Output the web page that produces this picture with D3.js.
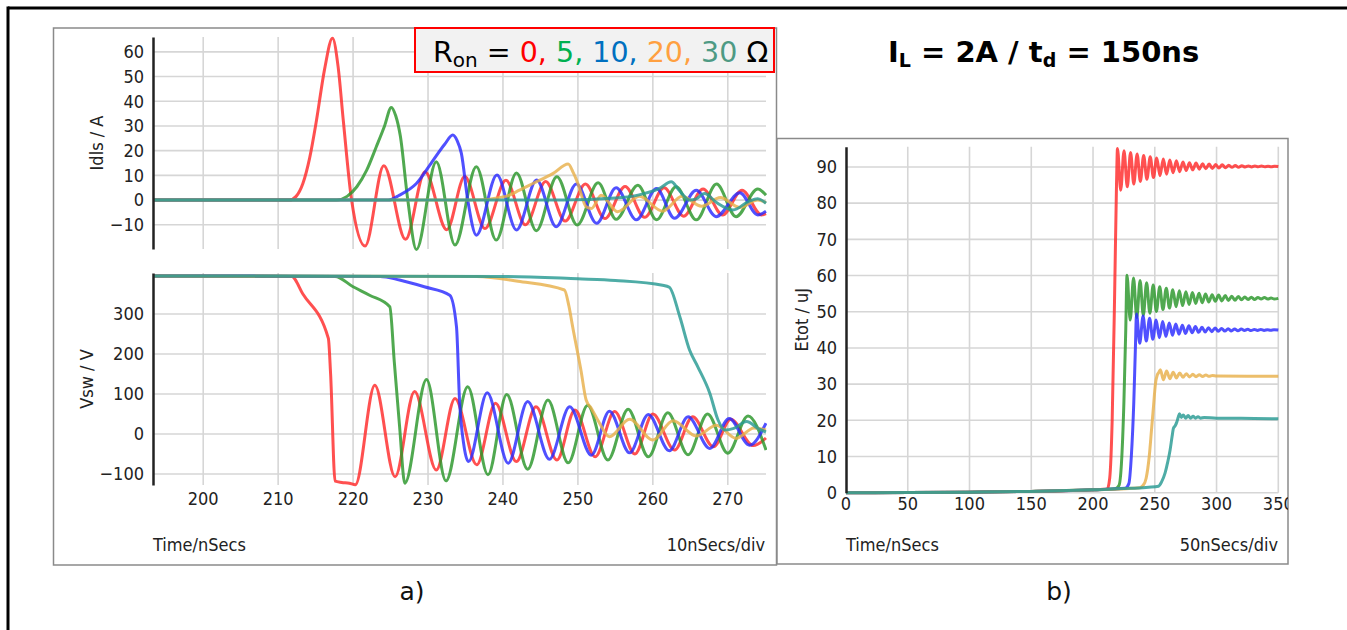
<!DOCTYPE html>
<html><head><meta charset="utf-8">
<script src="https://cdn.jsdelivr.net/npm/d3@7"></script>
<style>
html,body{margin:0;padding:0;background:#fff;}
svg{display:block;font-family:"DejaVu Sans Condensed","DejaVu Sans",Verdana,sans-serif;}
</style></head>
<body>
<svg id="c" width="1347" height="630"></svg>
<script>
// ---------------- DATA ----------------
const ronValues = [0, 5, 10, 20, 30];
const timeTicksA = [200, 210, 220, 230, 240, 250, 260, 270];
const idlsTicks = [-10, 0, 10, 20, 30, 40, 50, 60];
const vswTicks = [-100, 0, 100, 200, 300];
const timeTicksB = [0, 50, 100, 150, 200, 250, 300, 350];
const etotTicks = [0, 10, 20, 30, 40, 50, 60, 70, 80, 90];

// Idls (A) vs time (ns)
const idlsR0 = [[193.3,0],[211.5,0],[212.4,1.5],[213.3,6.7],[214.2,17],[215.1,32],[216.2,53],[217.25,65.5],[218.0,54],[218.7,32],[219.8,0],[221.6,-18.6],[224.1,13.9],[227.0,-15.9],[229.6,11.5],[232.5,-12],[234.9,9.5],[237.6,-11.5],[240.4,8],[243.0,-10],[245.7,7.5],[248.3,-8.5],[251.0,6.5],[253.6,-7.5],[256.3,5.5],[258.9,-7],[261.5,5],[264.1,-6.5],[266.7,4.5],[269.3,-6],[271.9,4],[274.5,-6],[275.1,-5.5]];
const idlsR5 = [[193.3,0],[217.8,0],[219.2,1.5],[220.5,5.4],[221.8,12],[223.1,21.6],[224.2,30],[225.1,37.5],[225.7,34],[226.3,26],[227.3,0],[228.45,-20],[231.1,15.5],[233.6,-18.2],[236.45,13.5],[239.1,-16.2],[241.8,11],[244.45,-12.4],[247.2,9.4],[249.9,-10.1],[252.7,7],[255.1,-7.8],[258.0,6],[260.5,-8],[263.1,5.4],[265.8,-8],[268.5,6.5],[271.1,-6.7],[274.0,4.5],[275.1,2]];
const idlsR10 = [[193.3,0],[224.7,0],[226.2,2],[228.45,6.7],[230.7,16.2],[232.2,22.5],[233.3,26.3],[233.9,24],[234.45,18.9],[235.3,0],[236.45,-14.2],[239.2,10.1],[241.8,-12.1],[244.5,8.1],[247.1,-10.8],[249.8,6.5],[252.5,-9.4],[255.1,5],[257.8,-8],[260.5,4.7],[262.9,-7.4],[265.8,4],[268.45,-6.7],[271.6,3],[274.0,-6],[275.1,-4.5]];
const idlsR20 = [[193.3,0],[236,0],[240.4,1.5],[242.2,4],[244.0,6.7],[246.7,10.8],[248.7,14.6],[249.4,11],[250.0,6.7],[251.1,-2.7],[251.8,-3.4],[253.1,2],[255.3,-4.7],[258.2,1.5],[261.3,-4.5],[263.9,1.5],[266.5,-2.5],[269.0,1],[271.6,-3],[274.0,0],[275.1,-1]];
const idlsR30 = [[193.3,0],[248,0],[255,0.8],[258,2],[260.9,4.7],[262.45,7.4],[263.5,4],[264.9,0],[265.8,0.5],[266.9,2.7],[268.5,-1],[270.7,-4],[272.8,-0.5],[274,0.5],[275.1,-1.3]];

// Vsw (V) vs time (ns)
const vswR0 = [[193.3,395],[211.8,394],[213.3,350],[216.7,239],[217.0,150],[217.6,-118],[218.5,-121],[219.5,-123],[220.3,-127],[222.9,122],[225.6,-107],[228.2,106],[231.1,-90],[233.6,89],[236.5,-77],[239.0,77],[241.8,-69],[244.4,68],[247.2,-65],[249.6,60],[252.3,-57],[254.9,56],[257.6,-50],[260.0,50],[262.9,-40],[265.3,43],[268.1,-32],[270.4,37],[273.4,-29],[275.1,-10]];
const vswR5 = [[193.3,395],[217.6,394],[220.0,368],[222.2,347],[224.9,318],[225.5,180],[226.2,20],[226.9,-123],[229.8,136],[232.4,-117],[235.3,118],[238.0,-102],[240.5,99],[243.3,-88],[246.0,85],[248.7,-72],[251.3,72],[254.0,-65],[256.7,62],[259.4,-57],[262.0,53],[264.7,-52],[267.3,50],[270.0,-48],[272.7,45],[275.1,-40]];
const vswR10 = [[193.3,395],[223.6,394],[226.2,385],[229.5,368],[232.9,347],[233.8,268],[234.2,85],[234.8,-30],[235.4,-69],[237.9,103],[240.7,-73],[243.3,81],[246.2,-63],[248.9,68],[251.8,-53],[254.2,57],[256.9,-47],[259.4,49],[262.2,-42],[264.7,43],[267.6,-36],[270.2,39],[272.9,-28],[275.1,27]];
const vswR20 = [[193.3,395],[236.5,394],[242,382],[248.2,360],[248.8,320],[249.3,268],[250.4,160],[251.1,85],[251.8,64],[252.8,30],[254.2,-7],[256.9,37],[260.0,-15],[262.7,33],[265.8,-5],[268.5,22],[271.1,-11],[273.5,15],[275.1,10]];
const vswR30 = [[193.3,395],[240,394],[250,388],[255,384],[261.3,372],[262.2,367],[263.6,293],[264.9,210],[266.0,168],[267.6,102],[268.7,35],[269.6,10],[270.8,14],[272.5,31],[274.2,12],[275.1,5]];

// Etot (uJ) vs time (ns)
const etotR0 = [[0,0],[50,0.05],[100,0.15],[150,0.35],[200,0.8],[211.5,1.0],[213.5,4],[215.5,20],[217.5,55],[219,85],[219.8,95.1],[222.4,83.6],[225.1,94.5],[227.7,84.5],[230.4,94],[233,85.3],[235.7,93.6],[238.3,86],[241,93.2],[243.6,86.6],[246.3,92.8],[248.9,87.1],[251.6,92.5],[254.2,87.6],[256.9,92.2],[259.5,88],[262.2,91.9],[264.8,88.4],[267.5,91.7],[270.1,88.7],[272.8,91.4],[275.4,89],[278.1,91.2],[280.7,89.2],[283.4,91.1],[286,89.4],[288.7,90.9],[291.3,89.5],[294,90.8],[296.6,89.6],[299.3,90.7],[301.9,89.7],[304.6,90.6],[307.2,89.8],[309.9,90.5],[312.5,89.9],[315.2,90.4],[317.8,89.9],[320.5,90.35],[323.1,90],[325.8,90.3],[328.4,90],[331.1,90.3],[333.7,90.05],[336.4,90.25],[339,90.05],[341.7,90.2],[344.3,90.05],[347,90.2],[350,90.1]];
const etotR5 = [[0,0],[50,0.05],[100,0.15],[150,0.35],[200,0.8],[218,1.1],[221,2],[223,8],[225,25],[226.5,45],[227.5,60.1],[230.1,47.7],[232.8,59.3],[235.4,48.4],[238.1,58.6],[240.7,49],[243.4,58],[246,49.6],[248.7,57.4],[251.3,50.1],[254,56.9],[256.6,50.6],[259.3,56.5],[261.9,51],[264.6,56.1],[267.2,51.4],[269.9,55.8],[272.5,51.7],[275.2,55.5],[277.8,52],[280.5,55.3],[283.1,52.3],[285.8,55.1],[288.4,52.5],[291.1,54.9],[293.7,52.7],[296.4,54.7],[299,52.9],[301.7,54.6],[304.3,53],[307,54.5],[309.6,53.1],[312.3,54.3],[314.9,53.2],[317.6,54.2],[320.2,53.3],[322.9,54.1],[325.5,53.4],[328.2,54],[330.8,53.4],[333.5,53.9],[336.1,53.5],[338.8,53.9],[341.4,53.5],[344.1,53.8],[346.7,53.5],[350,53.7]];
const etotR10 = [[0,0],[50,0.05],[100,0.15],[150,0.35],[200,0.8],[226,1.2],[229,2.5],[231,10],[233,25],[234.3,40],[235.2,49.4],[237.8,41.3],[240.5,48.8],[243.1,41.9],[245.8,48.2],[248.4,42.4],[251.1,47.7],[253.7,42.8],[256.4,47.3],[259,43.2],[261.7,46.9],[264.3,43.5],[267,46.6],[269.6,43.8],[272.3,46.3],[274.9,44],[277.6,46.1],[280.2,44.2],[282.9,45.9],[285.5,44.3],[288.2,45.7],[290.8,44.4],[293.5,45.6],[296.1,44.5],[298.8,45.5],[301.4,44.6],[304.1,45.4],[306.7,44.65],[309.4,45.3],[312,44.7],[314.7,45.25],[317.3,44.75],[320,45.2],[322.6,44.8],[325.3,45.15],[327.9,44.8],[330.6,45.1],[333.2,44.85],[335.9,45.1],[338.5,44.85],[341.2,45.05],[343.8,44.9],[346.5,45.05],[350,44.95]];
const etotR20 = [[0,0],[50,0.05],[100,0.15],[150,0.35],[200,0.8],[238,1.4],[240.5,2],[243,4],[245.5,10],[247.5,18],[249,24],[250.5,30],[252,32.5],[253.2,33.2],[254.5,34.0],[257,31.2],[259.6,33.6],[262.2,31.5],[264.9,33.3],[267.5,31.7],[270.2,33.1],[272.8,31.9],[275.5,32.9],[278.1,32],[280.8,32.7],[283.4,32.05],[286.1,32.6],[288.7,32.1],[291.4,32.5],[294,32.15],[296.7,32.4],[300,32.25],[325,32.2],[350,32.2]];
const etotR30 = [[0,0],[50,0.05],[100,0.15],[150,0.35],[200,0.8],[230,1.2],[245,1.5],[253,1.8],[255.5,3],[258.3,5.4],[260.5,8.5],[262.4,11.8],[264,15.5],[265.1,17.8],[266.5,18.5],[267.8,19.5],[269.1,21],[270,21.8],[271.5,20.8],[273,21.5],[275,20.6],[277,21.3],[279,20.6],[281,21.1],[283,20.6],[285,21],[287,20.6],[290,20.8],[300,20.6],[320,20.6],[350,20.4]];

const idlsSeries = [idlsR0, idlsR5, idlsR10, idlsR20, idlsR30];
const vswSeries = [vswR0, vswR5, vswR10, vswR20, vswR30];
const etotSeries = [etotR0, etotR5, etotR10, etotR20, etotR30];

// ---------------- STYLES ----------------
const lineColors = ["#ff2a2a", "#2a962a", "#2a2aff", "#e8b04a", "#279a92"];
const legendColors = ["#ff0000", "#00b050", "#0070c0", "#ffa040", "#4e9a84"];

// ---------------- DRAW ----------------
const svg = d3.select("#c");
const FONT = 18;
const FF = '"DejaVu Sans Condensed","DejaVu Sans",Verdana,sans-serif';

// outer frame lines (top & left)
svg.append("line").attr("x1",8).attr("x2",1347).attr("y1",8).attr("y2",8).attr("stroke","#000").attr("stroke-width",3);
svg.append("line").attr("x1",8).attr("x2",8).attr("y1",6.5).attr("y2",630).attr("stroke","#000").attr("stroke-width",3);

// panel boxes
svg.append("rect").attr("x",53.5).attr("y",28).attr("width",723).attr("height",537)
  .attr("fill","#fff").attr("stroke","#8a8a8a").attr("stroke-width",1.5);
svg.append("rect").attr("x",777).attr("y",138.5).attr("width",511).attr("height",425.5)
  .attr("fill","#fff").attr("stroke","#8a8a8a").attr("stroke-width",1.5);

const defs = svg.append("defs");
function clip(id, x, y, w, h) {
  defs.append("clipPath").attr("id", id).append("rect").attr("x", x).attr("y", y).attr("width", w).attr("height", h);
  return "url(#" + id + ")";
}

function drawPlot(opts) {
  const { x, y, xTicks, yTicks, series, clipId, yLabel, yLabelX, grp } = opts;
  const g = grp || svg.append("g");
  const [x0, x1] = x.range();
  const [yb, yt] = y.range();
  const grid = g.append("g").attr("stroke", "#d6d6d6").attr("stroke-width", 1.6);
  yTicks.forEach(v => grid.append("line").attr("x1", x0).attr("x2", x1).attr("y1", y(v)).attr("y2", y(v)));
  xTicks.forEach(v => { if (x(v) > x0 + 1) grid.append("line").attr("x1", x(v)).attr("x2", x(v)).attr("y1", yt).attr("y2", yb); });

  const cp = clip(clipId, x0, yt - 2, x1 - x0 + 1, yb - yt + 4);
  const line = d3.line().x(d => x(d[0])).y(d => y(d[1])).curve(d3.curveMonotoneX);
  const lg = g.append("g").attr("clip-path", cp);
  series.forEach((s, i) => {
    lg.append("path").attr("d", line(s)).attr("fill", "none")
      .attr("stroke", lineColors[i]).attr("stroke-width", 3).attr("stroke-opacity", 0.82)
      .attr("stroke-linejoin", "round");
  });

  // y axis
  const ay = g.append("g").attr("transform", `translate(${x0},0)`)
    .call(d3.axisLeft(y).tickValues(yTicks).tickSize(0).tickPadding(9).tickFormat(d3.format("d")));
  ay.select(".domain").attr("stroke", "#222").attr("stroke-width", 2.5);
  ay.selectAll("text").attr("font-size", FONT).attr("fill", "#222").attr("font-family", FF);

  g.append("text").attr("transform", `translate(${yLabelX},${(yt + yb) / 2}) rotate(-90)`)
    .attr("text-anchor", "middle").attr("font-size", FONT).attr("fill", "#222").text(yLabel);
  return g;
}

// ---- Panel a ----
const xA = d3.scaleLinear().domain([193.3, 275.1]).range([153, 766]);
const yI = d3.scaleLinear().domain([-19.8, 66]).range([249, 37]);
const yV = d3.scaleLinear().domain([-127.5, 402.5]).range([485, 273]);

drawPlot({ x: xA, y: yI, xTicks: timeTicksA, yTicks: idlsTicks, series: idlsSeries, clipId: "cI", yLabel: "Idls / A", yLabelX: 103 });
drawPlot({ x: xA, y: yV, xTicks: timeTicksA, yTicks: vswTicks, series: vswSeries, clipId: "cV", yLabel: "Vsw / V", yLabelX: 93 });

// x tick labels panel a
svg.append("g").selectAll("text").data(timeTicksA).join("text")
  .attr("x", d => xA(d)).attr("y", 505).attr("text-anchor", "middle")
  .attr("font-size", FONT).attr("fill", "#222").text(d => d);
svg.append("text").attr("x", 153).attr("y", 551).attr("font-size", FONT).attr("fill", "#222").text("Time/nSecs");
svg.append("text").attr("x", 765).attr("y", 551).attr("text-anchor", "end").attr("font-size", FONT).attr("fill", "#222").text("10nSecs/div");

// legend box
svg.append("rect").attr("x", 415).attr("y", 28).attr("width", 359).attr("height", 44)
  .attr("fill", "#f2f2f2").attr("stroke", "#ff0000").attr("stroke-width", 2);
const lt = svg.append("text").attr("x", 433).attr("y", 62).attr("font-size", 28.5).attr("fill", "#000")
  .attr("font-family", '"DejaVu Sans",Verdana,sans-serif');
lt.append("tspan").text("R");
lt.append("tspan").attr("font-size", 20).attr("dy", 5).text("on");
lt.append("tspan").attr("dy", -5).text(" = ");
ronValues.forEach((r, i) => {
  const last = i === ronValues.length - 1;
  lt.append("tspan").attr("fill", legendColors[i]).text(r + (last ? " " : ", "));
});
lt.append("tspan").attr("fill", "#000").text("Ω");

// title
const tt = svg.append("text").attr("x", 888).attr("y", 62).attr("font-size", 29).attr("font-weight", "bold").attr("fill", "#000")
  .attr("font-family", '"DejaVu Sans",Verdana,sans-serif');
tt.append("tspan").text("I");
tt.append("tspan").attr("font-size", 19).attr("dy", 5).text("L");
tt.append("tspan").attr("dy", -5).text(" = 2A / t");
tt.append("tspan").attr("font-size", 19).attr("dy", 5).text("d");
tt.append("tspan").attr("dy", -5).text(" = 150ns");

// ---- Panel b ----
const gb = svg.append("g").attr("clip-path", clip("cB", 777, 138.5, 511, 425.5));
const xB = d3.scaleLinear().domain([0, 350]).range([846, 1278.3]);
const yE = d3.scaleLinear().domain([0, 95.6]).range([492.7, 146.7]);
drawPlot({ x: xB, y: yE, xTicks: timeTicksB, yTicks: etotTicks, series: etotSeries, clipId: "cE", yLabel: "Etot / uJ", yLabelX: 808, grp: gb });
gb.append("g").selectAll("text").data(timeTicksB).join("text")
  .attr("x", d => xB(d)).attr("y", 510).attr("text-anchor", "middle")
  .attr("font-size", FONT).attr("fill", "#222").text(d => d);
gb.append("text").attr("x", 846).attr("y", 551).attr("font-size", FONT).attr("fill", "#222").text("Time/nSecs");
gb.append("text").attr("x", 1278).attr("y", 551).attr("text-anchor", "end").attr("font-size", FONT).attr("fill", "#222").text("50nSecs/div");

// sub-figure labels
svg.append("text").attr("x", 412).attr("y", 600).attr("text-anchor", "middle").attr("font-size", 25).attr("fill", "#111")
  .attr("font-family", '"DejaVu Sans",Verdana,sans-serif').text("a)");
svg.append("text").attr("x", 1059).attr("y", 600).attr("text-anchor", "middle").attr("font-size", 25).attr("fill", "#111")
  .attr("font-family", '"DejaVu Sans",Verdana,sans-serif').text("b)");
</script>
</body></html>
